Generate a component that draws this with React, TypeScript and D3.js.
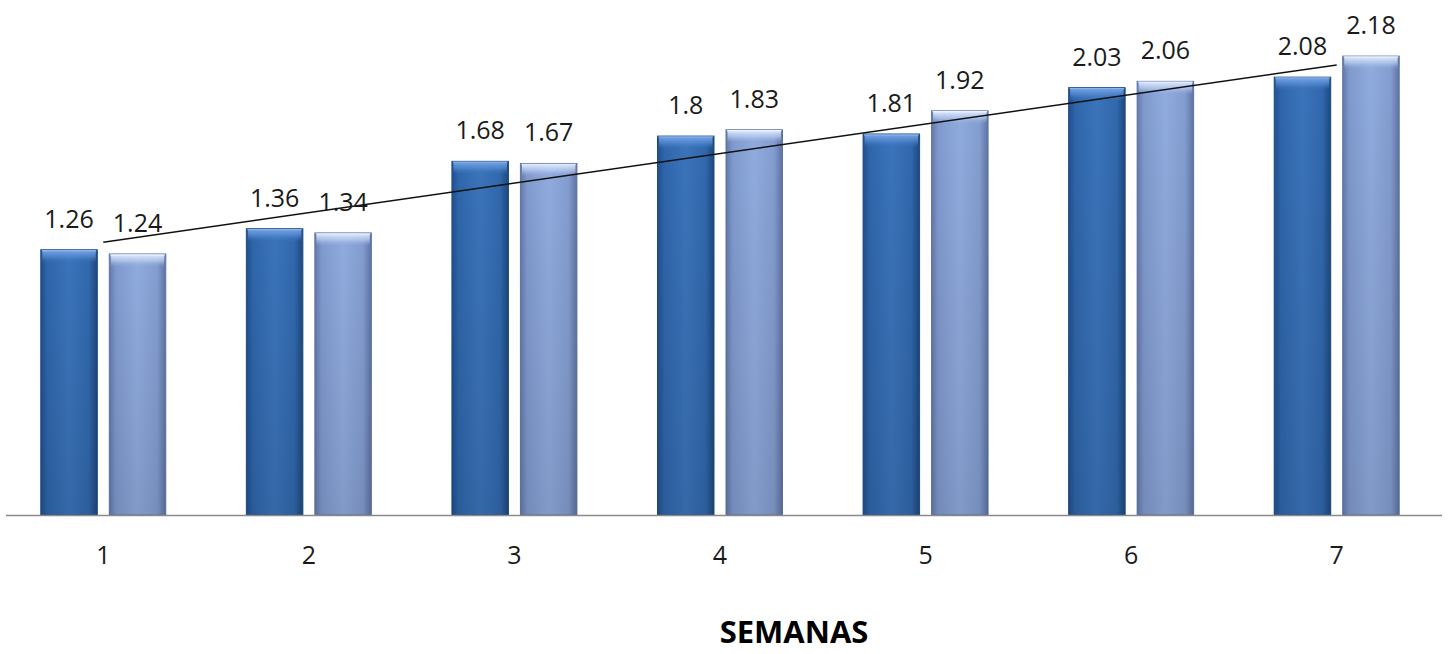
import React from "react";
import * as d3 from "d3";

const semanas: string[] = ["1", "2", "3", "4", "5", "6", "7"];
const serieA: number[] = [1.26, 1.36, 1.68, 1.8, 1.81, 2.03, 2.08];
const serieB: number[] = [1.24, 1.34, 1.67, 1.83, 1.92, 2.06, 2.18];
const seriesKeys: string[] = ["A", "B"];
const axisTitle = "SEMANAS";

const W = 1450;
const H = 654;
const baseY = 515;

export default function App() {
  const x = d3.scaleBand<string>().domain(semanas).range([0.5, 1439.5]).paddingInner(0).paddingOuter(0);
  const inner = d3.scaleBand<string>().domain(seriesKeys).range([-62.5, 62.5]).paddingInner(0.175);
  const y = d3.scaleLinear().domain([0, 2.4]).range([baseY, baseY - 2.4 * 210.5]);
  const bw = inner.bandwidth();
  const center = (c: string) => (x(c) as number) + x.bandwidth() / 2;

  // linear trend (least squares) of the first series
  const idx = serieA.map((_, i) => i + 1);
  const mx = d3.mean(idx) as number;
  const my = d3.mean(serieA) as number;
  const slope =
    d3.sum(idx.map((v, i) => (v - mx) * (serieA[i] - my))) / d3.sum(idx.map((v) => (v - mx) * (v - mx)));
  const icpt = my - slope * mx;
  const trend = d3
    .line<number>()
    .x((k) => center(semanas[k - 1]))
    .y((k) => y(icpt + slope * k));

  const font = "'Open Sans', 'Noto Sans', sans-serif";

  const bars: { key: string; vals: number[]; body: string; cap: string; edge: string }[] = [
    { key: "A", vals: serieA, body: "gradA", cap: "capA", edge: "#1d4a85" },
    { key: "B", vals: serieB, body: "gradB", cap: "capB", edge: "#5d74a6" },
  ];

  return (
    <svg
      width={W}
      height={H}
      style={{ position: "absolute", left: 0, top: 0, display: "block", background: "#fff" }}
    >
      <defs>
        <linearGradient id="gradA" x1="0" x2="1" y1="0" y2="0">
          <stop offset="0" stopColor="#20508e" />
          <stop offset="0.12" stopColor="#2f66ab" />
          <stop offset="0.5" stopColor="#3b74bb" />
          <stop offset="0.85" stopColor="#3168ad" />
          <stop offset="1" stopColor="#1d487c" />
        </linearGradient>
        <linearGradient id="gradB" x1="0" x2="1" y1="0" y2="0">
          <stop offset="0" stopColor="#6479ab" />
          <stop offset="0.12" stopColor="#809ace" />
          <stop offset="0.5" stopColor="#90abde" />
          <stop offset="0.85" stopColor="#839dd0" />
          <stop offset="1" stopColor="#5f73a2" />
        </linearGradient>
        <linearGradient id="capA" x1="0" x2="0" y1="0" y2="1">
          <stop offset="0" stopColor="#7aa6e6" stopOpacity="0.95" />
          <stop offset="0.5" stopColor="#5a8fd6" stopOpacity="0.65" />
          <stop offset="1" stopColor="#3b74bb" stopOpacity="0" />
        </linearGradient>
        <linearGradient id="capB" x1="0" x2="0" y1="0" y2="1">
          <stop offset="0" stopColor="#e2ecfc" stopOpacity="0.95" />
          <stop offset="0.5" stopColor="#bfd2f2" stopOpacity="0.65" />
          <stop offset="1" stopColor="#90abde" stopOpacity="0" />
        </linearGradient>
        <linearGradient id="shade" x1="0" x2="0" y1="0" y2="1">
          <stop offset="0" stopColor="#000" stopOpacity="0" />
          <stop offset="1" stopColor="#000" stopOpacity="0.1" />
        </linearGradient>
      </defs>

      {bars.map((s) =>
        semanas.map((c, i) => {
          const bx = center(c) + (inner(s.key) as number);
          const top = y(s.vals[i]);
          const h = baseY - top;
          return (
            <g key={s.key + c}>
              <rect x={bx} y={top} width={bw} height={h} fill={`url(#${s.body})`} stroke={s.edge} strokeWidth={1} />
              <rect x={bx} y={top} width={bw} height={h} fill="url(#shade)" />
              <rect x={bx + 1.5} y={top + 1} width={bw - 3} height={12} fill={`url(#${s.cap})`} />
              <line x1={bx + 1} x2={bx + bw - 1} y1={top + 0.8} y2={top + 0.8} stroke={s.key === "A" ? "#8ab4ea" : "#eef4ff"} strokeWidth={1.2} />
            </g>
          );
        })
      )}

      <line x1={6} x2={1442} y1={baseY + 0.5} y2={baseY + 0.5} stroke="#8a8a8a" strokeWidth={1.5} />

      <path d={trend([1, 7]) as string} fill="none" stroke="#111" strokeWidth={1.5} />

      {bars.map((s) =>
        semanas.map((c, i) => {
          const bx = center(c) + (inner(s.key) as number) + bw / 2;
          return (
            <text
              key={"l" + s.key + c}
              x={bx}
              y={y(s.vals[i]) - 22}
              textAnchor="middle"
              fontFamily={font}
              fontSize={25}
              fill="#1a1a1a"
            >
              {s.vals[i]}
            </text>
          );
        })
      )}

      {semanas.map((c) => (
        <text key={"t" + c} x={center(c)} y={564} textAnchor="middle" fontFamily={font} fontSize={25} fill="#1a1a1a">
          {c}
        </text>
      ))}

      <text x={794} y={643} textAnchor="middle" fontFamily={font} fontSize={31} fontWeight="bold" fill="#000">
        {axisTitle}
      </text>
    </svg>
  );
}
